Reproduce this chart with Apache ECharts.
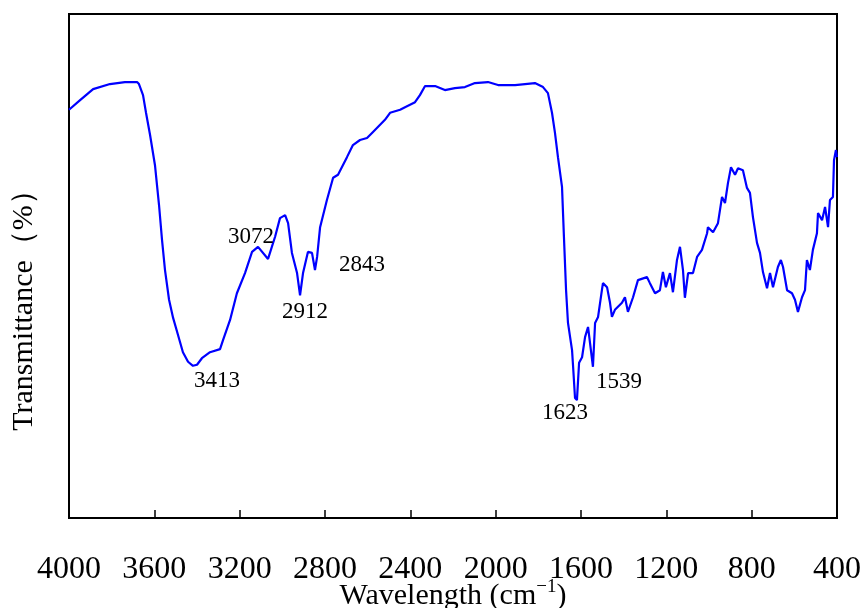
<!DOCTYPE html>
<html>
<head>
<meta charset="utf-8">
<script src="https://cdn.jsdelivr.net/npm/echarts@6/dist/echarts.min.js"></script>
<style>html,body{margin:0;padding:0;background:#fff}#c{width:862px;height:608px}</style>
</head>
<body>
<div id="c"></div>
<script>
// Wavenumber (cm-1)
const wavenumbers = [4000,3948,3887,3808,3738,3681,3672,3653,3639,3620,3597,3578,3564,3550,3531,3512,3489,3466,3442,3419,3400,3377,3339,3292,3278,3245,3213,3175,3142,3114,3067,3034,3011,2987,2973,2955,2931,2917,2903,2880,2861,2847,2837,2823,2791,2762,2739,2697,2669,2636,2603,2575,2519,2495,2448,2425,2378,2355,2331,2284,2238,2191,2144,2097,2036,1989,1909,1816,1778,1755,1736,1722,1708,1689,1680,1670,1661,1642,1637,1628,1619,1609,1595,1581,1567,1558,1544,1534,1520,1502,1497,1478,1464,1455,1441,1408,1394,1380,1356,1333,1291,1277,1253,1230,1216,1202,1183,1169,1150,1136,1122,1113,1098,1075,1056,1033,1009,1005,981,958,939,925,911,897,878,864,841,822,808,794,775,761,747,728,714,700,677,663,653,634,611,597,583,564,550,541,527,513,494,489,470,456,442,433,419,414,405,400];
// Transmittance (%) — arbitrary scale 0..100
const transmittance = [81.0,82.9,85.1,86.1,86.5,86.5,86.1,83.9,80.4,76.0,70.0,62.1,55.2,49.2,43.3,39.7,36.3,32.9,31.0,30.2,30.4,31.7,32.9,33.5,35.3,39.3,44.6,48.6,52.8,53.8,51.4,55.8,59.5,60.1,58.5,52.6,48.6,44.2,48.6,52.8,52.6,49.2,51.8,57.7,63.1,67.5,68.1,71.6,74.0,75.0,75.4,76.6,79.0,80.4,81.0,81.5,82.5,83.9,85.7,85.7,84.9,85.3,85.5,86.3,86.5,85.9,85.9,86.3,85.5,84.3,80.4,76.4,71.6,65.7,55.8,45.2,38.7,33.3,30.0,23.8,23.4,30.8,31.9,35.9,37.9,37.9,30.0,38.7,39.9,45.2,46.6,45.8,42.7,39.9,41.3,42.7,43.8,40.9,43.8,47.2,47.8,46.6,44.6,45.2,48.8,45.8,48.6,44.8,51.2,53.8,49.2,43.7,48.6,48.6,51.8,53.2,56.5,57.7,56.7,58.5,63.7,62.5,66.5,69.6,68.1,69.4,69.0,65.5,64.5,59.7,54.6,52.6,48.8,45.6,48.6,45.8,49.8,51.2,49.8,45.2,44.6,43.3,40.9,43.8,45.2,51.2,49.2,53.2,56.5,60.5,59.1,61.7,57.7,63.1,63.7,71.0,73.0,71.6];
// X-axis tick labels
const xTickLabels = ['4000','3600','3200','2800','2400','2000','1600','1200','800','400'];
// Peak annotations: text, wavenumber and transmittance where the text sits
const peakLabels = ['3413','3072','2912','2843','1623','1539'];
const peakLabelX = [3306,3147,2894,2627,1675,1422];
const peakLabelY = [27.2,55.8,40.9,50.2,20.8,27.0];

const serif = '"Liberation Serif","Times New Roman",serif';
const chart = echarts.init(document.getElementById('c'), null, {renderer:'canvas'});
const lineData = wavenumbers.map((w,i)=>[w, transmittance[i]]);
const peakData = peakLabels.map((t,i)=>({value:[peakLabelX[i], peakLabelY[i]], name:t}));
const tickSet = {};
xTickLabels.forEach(t => tickSet[+t] = t);

chart.setOption({
  animation:false,
  backgroundColor:'#fff',
  grid:{left:69,right:25,top:14,bottom:90,containLabel:false,outerBoundsMode:'none',
        show:true,borderColor:'#000',borderWidth:2,backgroundColor:'transparent'},
  xAxis:{
    type:'value', inverse:true, min:400, max:4000, interval:400,
    axisLine:{show:true,lineStyle:{color:'#000',width:2}},
    axisTick:{show:true,inside:true,length:8,lineStyle:{color:'#000',width:1.5}},
    axisLabel:{show:true,margin:36,color:'#000',fontFamily:serif,fontSize:32,
      formatter:v=>tickSet[v]!==undefined?tickSet[v]:''},
    splitLine:{show:false},
    name:'Wavelength (cm{sup|−1})',
    nameLocation:'middle', nameGap:60, nameMoveOverlap:false,
    nameTextStyle:{color:'#000',fontFamily:serif,fontSize:30,
      rich:{sup:{fontFamily:serif,fontSize:19,color:'#000',padding:[0,0,18,0]}}}
  },
  yAxis:{
    type:'value', min:0, max:100,
    axisLine:{show:true,lineStyle:{color:'#000',width:2}},
    axisTick:{show:false}, axisLabel:{show:false}, splitLine:{show:false},
    name:'Transmittance（%）', nameLocation:'middle', nameGap:30,
    nameTextStyle:{color:'#000',fontFamily:serif,fontSize:30,padding:[0,74,0,0]}
  },
  series:[
    {type:'line', data:lineData, showSymbol:false, symbol:'none',
     lineStyle:{color:'#0000ff',width:2.2}, z:3},
    {type:'scatter', data:peakData, symbolSize:0, z:4, itemStyle:{opacity:1},
     label:{show:true,position:'inside',formatter:p=>p.name,color:'#000',textBorderWidth:0,
            fontFamily:serif,fontSize:23}}
  ]
});
</script>
</body>
</html>
